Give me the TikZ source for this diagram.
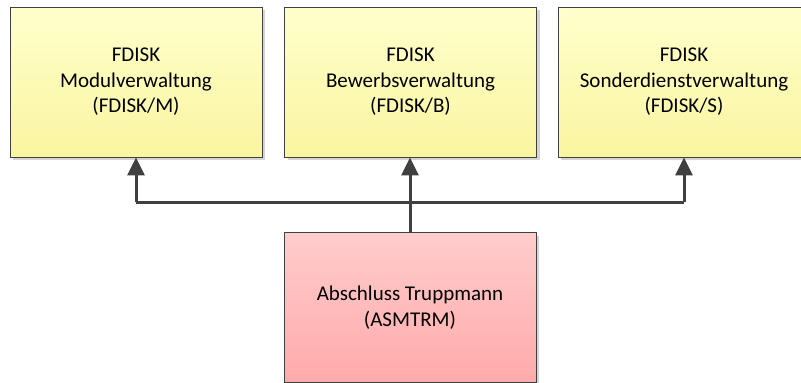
\documentclass[tikz,border=0pt]{standalone}
\usepackage{fontspec}
\setmainfont{Carlito}
\usetikzlibrary{arrows.meta,shadows}
\definecolor{edge}{HTML}{404040}
\definecolor{ytop}{HTML}{FFFFCC}
\definecolor{ybot}{HTML}{FAF5A0}
\definecolor{ptop}{HTML}{FFCCCC}
\definecolor{pbot}{HTML}{FFAAAA}
\definecolor{shade}{HTML}{D4D4D4}
\tikzset{
  box/.style={draw=edge, line width=0.9pt, minimum width=252pt, minimum height=150pt,
    inner sep=0pt, align=center, font=\fontsize{21}{25.5}\selectfont, text=black,
    drop shadow={shadow xshift=3pt, shadow yshift=-3pt, fill=shade, opacity=1}},
  ybox/.style={box, top color=ytop, bottom color=ybot},
  pbox/.style={box, top color=ptop, bottom color=pbot},
  arr/.style={draw=edge, line width=3pt, -{Triangle[length=18pt,width=17pt]}},
  ln/.style={draw=edge, line width=3pt}
}
\begin{document}
\begin{tikzpicture}[x=1pt,y=-1pt]
\useasboundingbox (0,0) rectangle (801,383);
\clip (0,0) rectangle (801,383);
\fill[white] (0,0) rectangle (801,383);
\node[ybox] (l) at (136,82) {FDISK\\Modulverwaltung\\(FDISK/M)};
\node[ybox] (m) at (410.5,82) {FDISK\\Bewerbsverwaltung\\(FDISK/B)};
\node[ybox] (r) at (684,82) {FDISK\\Sonderdienstverwaltung\\(FDISK/S)};
\node[pbox] (b) at (410,307.5) {Abschluss Truppmann\\(ASMTRM)};
\coordinate (j) at (410,202);
\coordinate (jl) at (l.south |- j);
\coordinate (jr) at (r.south |- j);
\draw[arr] (b.north) -- (b.north |- m.south);
\draw[ln] (jl) -- (jr);
\draw[arr] (jl) -- (l.south);
\draw[arr] (jr) -- (r.south);
\end{tikzpicture}
\end{document}
